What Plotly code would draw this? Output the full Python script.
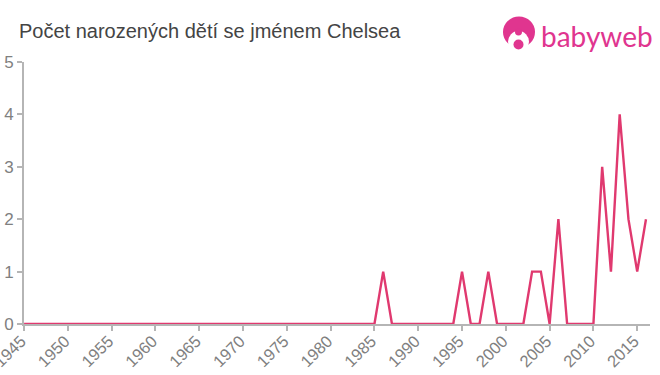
import plotly.graph_objects as go

years = list(range(1945, 2017))
nonzero = {1986: 1, 1995: 1, 1998: 1, 2003: 1, 2004: 1, 2006: 2, 2011: 3, 2012: 1, 2013: 4, 2014: 2, 2015: 1, 2016: 2}
counts = [nonzero.get(y, 0) for y in years]
tick_years = list(range(1945, 2016, 5))
y_ticks = [0, 1, 2, 3, 4, 5]
title = "Počet narozených dětí se jménem Chelsea"
brand = "babyweb"

W, H = 660, 375
L, R, T, B = 24, 10, 61.5, 51
PINK = "#e0358f"
def px(x): return (x - L) / (W - L - R)
def py(y): return 1 - (y - T) / (H - T - B)
def circle(x0, x1, y0, y1, color):
    return dict(type="circle", xref="paper", yref="paper", x0=px(x0), x1=px(x1), y0=py(y1), y1=py(y0),
                fillcolor=color, line_width=0, layer="above")

fig = go.Figure(go.Scatter(x=years, y=counts, mode="lines", cliponaxis=False,
                           line=dict(color="#e0396f", width=2.4), hoverinfo="skip"))
axis_common = dict(showgrid=False, zeroline=False, showline=True, linecolor="#b5b5b5", linewidth=2,
                   ticks="outside", ticklen=5, tickwidth=1.5, tickcolor="#b5b5b5", automargin=False)
fig.update_xaxes(range=[1944.99, 2016.46], tickmode="array", tickvals=tick_years,
                 ticktext=[str(y) for y in tick_years], tickangle=-45, ticklabelstandoff=-6, ticklabelshift=-3,
                 ticklabeloverflow="allow", tickfont=dict(family="Liberation Sans", size=16.5, color="#808080"),
                 **axis_common)
fig.update_yaxes(range=[0, 5], tickmode="array", tickvals=y_ticks, ticktext=[str(v) for v in y_ticks],
                 tickfont=dict(family="Liberation Sans", size=17, color="#808080"), **axis_common)

shapes = [
    circle(503, 535, 16, 47, PINK),
    circle(508, 529, 30.5, 52, "white"),
    circle(515, 522, 28, 35, PINK),
    circle(513.5, 523.5, 39, 49, PINK),
]
fig.update_layout(
    width=W, height=H, autosize=False, showlegend=False,
    paper_bgcolor="white", plot_bgcolor="white",
    margin=dict(l=L, r=R, t=T, b=B), shapes=shapes,
    annotations=[
        dict(text=title, xref="paper", yref="paper", x=px(19), y=py(30), xanchor="left", yanchor="middle",
             showarrow=False, xshift=-2, font=dict(family="Liberation Sans", size=20, color="#444444")),
        dict(text=brand, xref="paper", yref="paper", x=px(539), y=py(35), xanchor="left", yanchor="middle",
             showarrow=False, font=dict(family="Lato", size=28, color=PINK)),
    ],
)
fig.write_html("out.html", config={"displayModeBar": False},
               post_script="document.body.style.margin='0';document.documentElement.style.overflow='hidden';")
